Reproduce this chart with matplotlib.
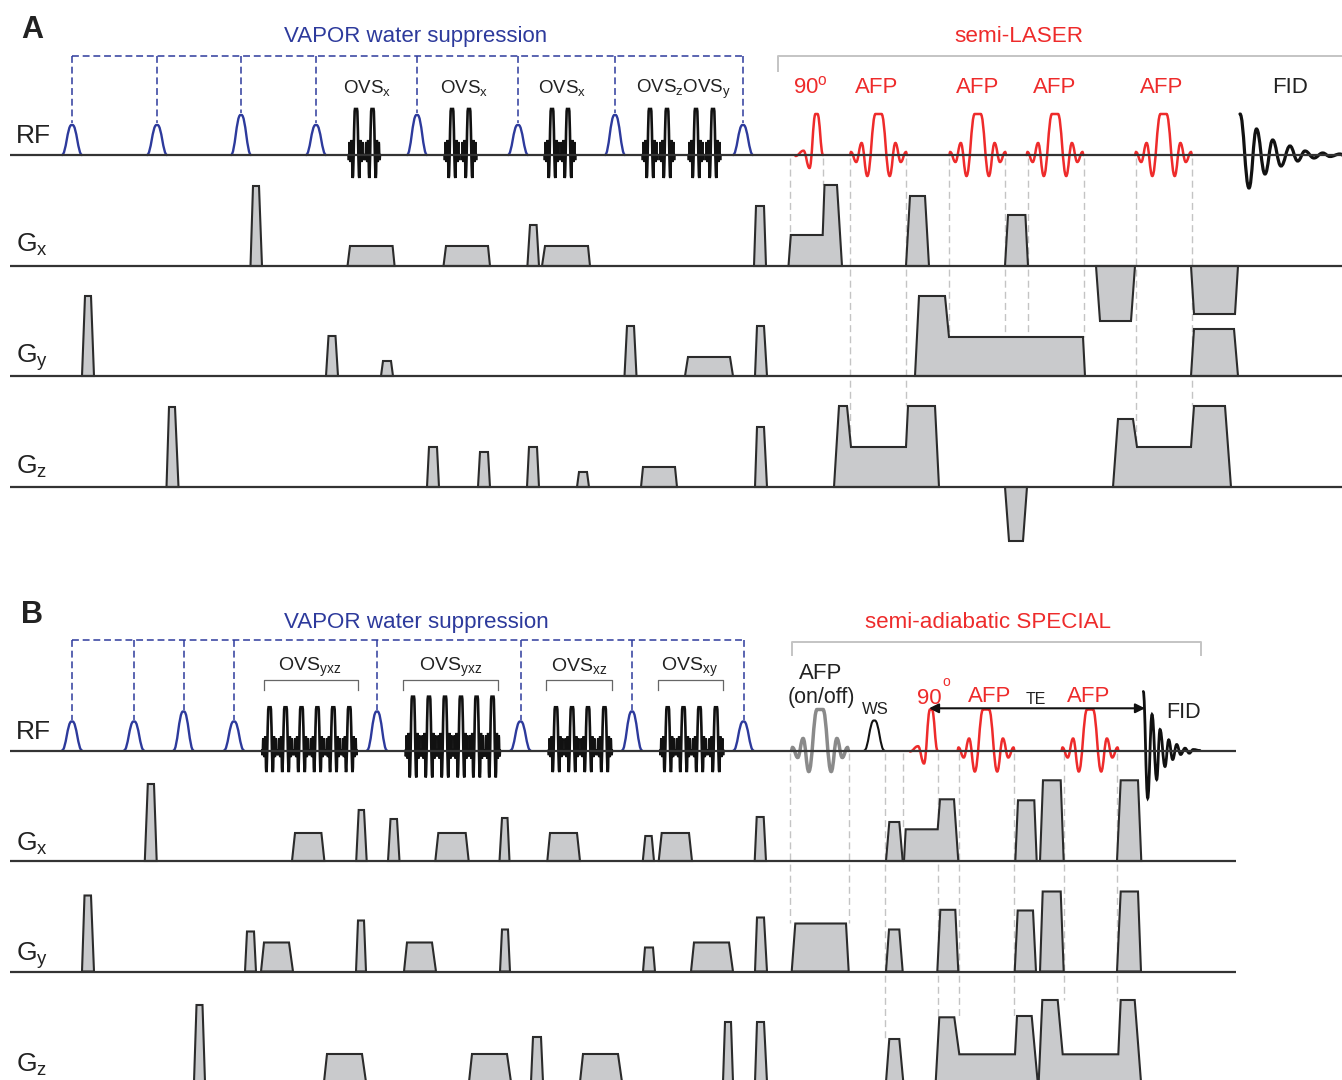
#!/usr/bin/env python3
"""Pulse sequence diagrams: VAPOR + semi-LASER (A), VAPOR + semi-adiabatic SPECIAL (B).

x values are time on the drawing's own scale, amplitudes are heights above
the channel's baseline, everything read from the picture.
"""
import matplotlib
matplotlib.use('Agg')
import matplotlib.pyplot as plt
from matplotlib.patches import PathPatch, Polygon
from matplotlib.path import Path

plt.rcParams['font.family'] = ['Liberation Sans', 'DejaVu Sans']
plt.rcParams['mathtext.fontset'] = 'custom'
plt.rcParams['mathtext.rm'] = 'Liberation Sans'
plt.rcParams['mathtext.it'] = 'Liberation Sans'

# waveforms as (time offset, amplitude) turning points
VAPOR_SHAPE = [(-10, 0), (-0.6, 1), (0.6, 1), (10, 0)]
AFP_SHAPE = [(-28.5, 0), (-27.5, 3), (-22.3, -7), (-16.9, 12), (-11.2, -21), (-3, 41), (3, 41),
             (11.2, -21), (16.9, 12), (22.3, -7), (27.5, 3), (28.5, 0)]
NINETY_SHAPE = [(-21, -1), (-13, 4.3), (-7, -13), (-1, 41), (1, 41), (6.5, 0)]
OVS_SHAPE = [(-7.6, 0), (-7, -5), (-6.2, 13), (-5.2, -7), (-4.3, 15), (-3.3, -23), (-1, 46), (1, 46),
             (3.3, -23), (4.3, 15), (5.2, -7), (6.2, 13), (7, -5), (7.6, 0)]

# panel A
A_VAPOR_T = [72, 157, 241, 316, 417, 518, 615, 743]
A_VAPOR_H = [30, 30, 40, 30, 40, 30, 40, 30]
A_OVS_T = [356, 372.5, 452, 469, 552, 568, 650, 667, 696, 713]
A_AFP_T = [878.5, 977.7, 1055, 1163.5]
A_NINETY_T = 816.5
A_FID = [(1240, 41), (1249, -33), (1256.5, 26), (1265, -19), (1272.7, 15), (1281, -11),
         (1290, 9), (1297.7, -6), (1305, 4), (1314, -3), (1322.7, 2), (1330, -1.5),
         (1340, 1), (1343, 0)]
A_GX = [(250.5, 253, 259, 262, 80), (347.5, 350, 392.6, 394.6, 20), (443.5, 446, 488, 490, 20),
        (527.4, 530, 536.6, 539, 41), (542, 545, 588, 590, 20), (754, 756, 764, 766, 60),
        (906, 910, 925, 929, 70), (1005, 1008, 1025.4, 1028, 51),
        (1096, 1100, 1131, 1135, -55), (1191, 1194, 1235, 1238, -48)]
A_GX_STEPPED = [[(788.5, 0), (790.8, 31), (822.7, 31), (824.5, 81), (837, 81), (842, 0)]]
A_GY = [(82, 85, 91, 94, 80), (326, 328.5, 335.5, 338, 40), (381, 383, 391, 393, 15),
        (624.5, 627, 634, 636.5, 50), (685, 688, 730, 733, 19), (755, 757, 764, 767, 50),
        (1191, 1194, 1234, 1238, 47)]
A_GY_STEPPED = [[(915, 0), (919, 80), (945, 80), (949, 39), (1083, 39), (1085, 0)]]
A_GZ = [(166.5, 169, 175, 178.5, 80), (427, 429, 437, 439, 40), (478, 480, 488, 490, 35),
        (527, 529, 537, 539, 40), (577, 579, 587, 589, 15), (641, 643, 675, 677, 20),
        (755, 757, 764, 767, 60), (1005, 1009, 1023, 1027, -54)]
A_GZ_STEPPED = [[(834, 0), (839, 81), (847, 81), (851, 40), (906, 40), (908, 81),
                 (935, 81), (939, 0)],
                [(1113, 0), (1118, 68), (1133, 68), (1137, 40), (1191, 40), (1194, 81),
                 (1225, 81), (1231, 0)]]
A_GUIDE_T = [790.4, 822.7, 849.6, 906, 949, 1005, 1027.7, 1083.5, 1135.8, 1192]
A_GUIDE_END = [235, 185, 447, 406, 337, 337, 337, 337, 447, 406]

# panel B
B_VAPOR_T = [72, 134, 183.5, 234, 377, 520.5, 632, 743.5]
B_VAPOR_H = [29, 29, 39, 29, 39, 29, 39, 29]
B_OVS_T1 = [269.6, 285.5, 301.5, 317.4, 333.3, 349.3]
B_OVS_T2 = [413, 429, 445, 461, 476.6, 492.5]
B_OVS_T3 = [556, 572, 588, 604.5]
B_OVS_T4 = [667.7, 683.5, 699.5, 716]
B_AFP_T = [986, 1090]
B_AFP_GREY_T = 820
B_WS_T = 874.3
B_NINETY_T = 931
B_FID = [(1143.3, 59), (1147.7, -47.7), (1152, 36), (1156.7, -29), (1160, 21), (1165, -16),
         (1168.7, 10.7), (1172.7, -9), (1176.7, 6), (1180.7, -4), (1185, 2.3), (1189.3, -2.7),
         (1193.3, 1), (1200, 0)]
B_GX = [(144.8, 147.8, 154, 156.7, 77), (292, 295, 321.4, 324.4, 28), (356.2, 358.7, 364, 366.7, 51),
        (388, 390.5, 397, 399.5, 42), (435.3, 438.3, 465.7, 468.7, 28), (499.5, 502, 507.5, 509.5, 43),
        (547.3, 550, 577, 580, 28), (642.8, 645.3, 651.7, 654, 25), (658.7, 661.7, 689, 692, 28),
        (754.7, 756.7, 763.7, 766, 44), (886, 889.3, 899.3, 902.7, 39),
        (1015.3, 1018, 1034.3, 1036.7, 60.7), (1040, 1043, 1060.7, 1063.7, 80.7),
        (1117, 1120.7, 1138, 1141.3, 80.7)]
B_GX_STEPPED = [[(904, 0), (905.7, 31.7), (937.7, 31.7), (940, 61.7), (954, 61.7), (958.3, 0)]]
B_GY = [(82, 84.5, 91, 94, 76), (245, 247, 254, 256, 40), (261, 264, 289, 293, 29),
        (356, 358, 364, 366, 51), (404, 407, 432, 436, 29), (500, 502, 508, 510, 42),
        (643, 645, 653, 655, 24), (691, 694, 729, 733, 29), (755, 757, 764, 767, 54),
        (791.7, 795.3, 846, 848.7, 48), (886, 889, 899.3, 902.7, 42), (937.3, 940.3, 955.3, 958.3, 61.7),
        (1014.7, 1017.7, 1033, 1036, 61), (1040, 1042.7, 1060.7, 1063.7, 80), (1117, 1120.7, 1138, 1141, 80)]
B_GZ = [(194, 196.5, 202.5, 205, 77), (324, 327, 362, 366, 28), (469, 472, 507, 511, 28),
        (531, 533, 541, 543, 45), (580, 583, 618, 622, 28), (723, 725, 731, 733, 60),
        (755, 757, 764, 767, 60), (886, 889.3, 899.3, 903.3, 43)]
B_GZ_STEPPED = [[(935.7, 0), (939.3, 64.7), (954.3, 64.7), (959.3, 27.7), (1015, 27.7), (1017, 66),
                 (1031.7, 66), (1037.7, 0)],
                [(1038.7, 0), (1042.3, 82), (1057.7, 82), (1062.7, 27.7), (1118.3, 27.7),
                 (1120.7, 82), (1134.7, 82), (1141, 0)]]
B_GUIDE_T = [790.3, 848.7, 885, 903.3, 937.7, 958.7, 1014.3, 1063.7, 1117]
B_GUIDE_END = [923, 923, 1040, 829, 1018, 1018, 1016, 1000, 1001]
B_BRACKETS = [(263.7, 358), (403, 498), (546, 612), (658, 723)]
B_OVS_LABELS = ['OVS$_{\\mathrm{yxz}}$', 'OVS$_{\\mathrm{yxz}}$', 'OVS$_{\\mathrm{xz}}$', 'OVS$_{\\mathrm{xy}}$']

BLUE = '#2d3a9c'
RED = '#ee2b2b'
DARK = '#2b2b2b'
GUIDE = '#c4c4c4'
FILL = '#c9cacc'

fig = plt.figure(figsize=(13.42, 10.8), dpi=100)
ax = fig.add_axes([0, 0, 1, 1])
ax.set_xlim(0, 1342)
ax.set_ylim(1080, 0)
ax.axis('off')


def wave(points, t0, base, scale=1.0, color='k', lw=1.8, z=4):
    # smooth line through turning points, flat tangent at each one
    pts = [(t0 + t, base - a * scale) for t, a in points]
    verts = [pts[0]]
    codes = [Path.MOVETO]
    for (x0, y0), (x1, y1) in zip(pts[:-1], pts[1:]):
        dx = x1 - x0
        verts += [(x0 + 0.42 * dx, y0), (x1 - 0.42 * dx, y1), (x1, y1)]
        codes += [Path.CURVE4] * 3
    ax.add_patch(PathPatch(Path(verts, codes), fill=False, ec=color, lw=lw, zorder=z,
                           capstyle='round'))


def ovs(times, base, scale=1.0):
    for t in times:
        wave(OVS_SHAPE, t, base, scale=scale, color='#111111', lw=1.9)


def lobes(trapezoids, stepped, base):
    for x0, x1, x2, x3, h in trapezoids:
        xy = [(x0, base), (x1, base - h), (x2, base - h), (x3, base)]
        ax.add_patch(Polygon(xy, closed=True, fc=FILL, ec=DARK, lw=1.5, zorder=2, joinstyle='miter'))
    for verts in stepped:
        xy = [(x, base - h) for x, h in verts]
        ax.add_patch(Polygon(xy, closed=True, fc=FILL, ec=DARK, lw=1.5, zorder=2, joinstyle='miter'))


def baseline(y, x1):
    ax.plot([10, x1], [y, y], color='#333333', lw=1.6, zorder=5, solid_capstyle='butt')


def vapor(times, heights, base, y_top):
    for t, h in zip(times, heights):
        wave([(a, b * h) for a, b in VAPOR_SHAPE], t, base, color=BLUE, lw=1.7)
        ax.plot([t, t], [y_top, base - h - 2], color=BLUE, lw=1.1, ls=(0, (4.5, 2.5)), zorder=3)
    ax.plot([times[0], times[-1]], [y_top, y_top], color=BLUE, lw=1.1, ls=(0, (4.5, 2.5)), zorder=3)


def guides(times, ends, y_start):
    for t, end in zip(times, ends):
        ax.plot([t, t], [y_start, end], color=GUIDE, lw=1.0, ls=(0, (5, 3)), zorder=1)


def channel_labels(ys):
    names = ['RF', 'G$_{\\mathrm{x}}$', 'G$_{\\mathrm{y}}$', 'G$_{\\mathrm{z}}$']
    for name, y in zip(names, ys):
        ax.text(16, y, name, fontsize=19, color='#222222', ha='left', va='baseline', zorder=6)


def narrow(x, y, s, fontsize=14):
    ax.text(x, y, s, fontsize=fontsize, color='#222222', ha='center', va='baseline', zorder=6)


# ---- panel A
for y in [155, 266, 376, 487]:
    baseline(y, 1342)
vapor(A_VAPOR_T, A_VAPOR_H, 155, 56)
ovs(A_OVS_T, 155)
wave(NINETY_SHAPE, A_NINETY_T, 155, color=RED)
for t in A_AFP_T:
    wave(AFP_SHAPE, t, 155, color=RED)
wave(A_FID, 0, 155, color='#111111', lw=2.3)
lobes(A_GX, A_GX_STEPPED, 266)
lobes(A_GY, A_GY_STEPPED, 376)
lobes(A_GZ, A_GZ_STEPPED, 487)
guides(A_GUIDE_T, A_GUIDE_END, 158)
ax.plot([778, 778, 1342], [71, 56, 56], color=GUIDE, lw=1.4, zorder=1)

ax.text(21, 38, 'A', fontsize=22, fontweight='bold', color='#222222', ha='left', va='baseline')
ax.text(416, 42, 'VAPOR water suppression', fontsize=16, color=BLUE, ha='center', va='baseline')
ax.text(1019, 42, 'semi-LASER', fontsize=16.2, color=RED, ha='center', va='baseline')
for x, label in zip([367, 464, 562, 684], ['OVS$_{\\mathrm{x}}$', 'OVS$_{\\mathrm{x}}$', 'OVS$_{\\mathrm{x}}$',
                                           'OVS$_{\\mathrm{z}}$OVS$_{\\mathrm{y}}$']):
    narrow(x, 93, label, fontsize=13.5)
ax.text(810, 93, '90$^{\\mathrm{o}}$', fontsize=16, color=RED, ha='center', va='baseline')
for x in [877, 978, 1055, 1162]:
    ax.text(x, 93, 'AFP', fontsize=16, color=RED, ha='center', va='baseline')
ax.text(1290, 93, 'FID', fontsize=16, color='#222222', ha='center', va='baseline')
channel_labels([143, 252, 363, 474])

# ---- panel B
baseline(750.5, 1236)
baseline(861, 1236)
baseline(971.5, 1236)
vapor(B_VAPOR_T, B_VAPOR_H, 750.5, 640)
ovs(B_OVS_T1, 750.5, scale=0.94)
ovs(B_OVS_T2, 750.5, scale=1.17)
ovs(B_OVS_T3, 750.5, scale=0.94)
ovs(B_OVS_T4, 750.5, scale=0.94)
wave(AFP_SHAPE, B_AFP_GREY_T, 750.5, color='#8a8a8a', lw=2.5)
wave([(a, b * 30) for a, b in VAPOR_SHAPE], B_WS_T, 750.5, color='#111111', lw=1.5)
wave(NINETY_SHAPE, B_NINETY_T, 750.5, color=RED)
for t in B_AFP_T:
    wave(AFP_SHAPE, t, 750.5, color=RED)
wave(B_FID, 0, 750.5, color='#111111', lw=2.0)
lobes(B_GX, B_GX_STEPPED, 861)
lobes(B_GY, [], 971.5)
lobes(B_GZ, B_GZ_STEPPED, 1082)
guides(B_GUIDE_T, B_GUIDE_END, 753)
for x0, x1 in B_BRACKETS:
    ax.plot([x0, x0, x1, x1], [690, 680, 680, 690], color='#666666', lw=0.9, zorder=3)
ax.plot([792, 792, 1201, 1201], [655, 641.5, 641.5, 655], color=GUIDE, lw=1.4, zorder=1)
ax.annotate('', xy=(929, 708.3), xytext=(1145, 708.3), zorder=6,
            arrowprops=dict(arrowstyle='<|-|>', color='#111111', lw=1.5, shrinkA=0, shrinkB=0,
                            mutation_scale=14))

ax.text(21, 623, 'B', fontsize=22, fontweight='bold', color='#222222', ha='left', va='baseline')
ax.text(416, 628, 'VAPOR water suppression', fontsize=16.1, color=BLUE, ha='center', va='baseline')
ax.text(988, 628, 'semi-adiabatic SPECIAL', fontsize=16.1, color=RED, ha='center', va='baseline')
for x, label in zip([310, 451, 579, 690], B_OVS_LABELS):
    narrow(x, 671, label, fontsize=14)
ax.text(821, 679, 'AFP', fontsize=16, color='#222222', ha='center', va='baseline')
ax.text(821, 703, '(on/off)', fontsize=15.5, color='#222222', ha='center', va='baseline')
ax.text(875, 714, 'WS', fontsize=12, color='#222222', ha='center', va='baseline')
ax.text(929, 704, '90', fontsize=16, color=RED, ha='center', va='baseline')
ax.text(946, 686, 'o', fontsize=10, color=RED, ha='center', va='baseline')
ax.text(990, 702, 'AFP', fontsize=16, color=RED, ha='center', va='baseline')
ax.text(1089, 702, 'AFP', fontsize=16, color=RED, ha='center', va='baseline')
ax.text(1036, 704, 'TE', fontsize=11.5, color='#222222', ha='center', va='baseline')
ax.text(1184, 718, 'FID', fontsize=15.5, color='#222222', ha='center', va='baseline')
channel_labels([739, 851, 961, 1072])

fig.savefig('out.png', dpi=100, facecolor='white')
